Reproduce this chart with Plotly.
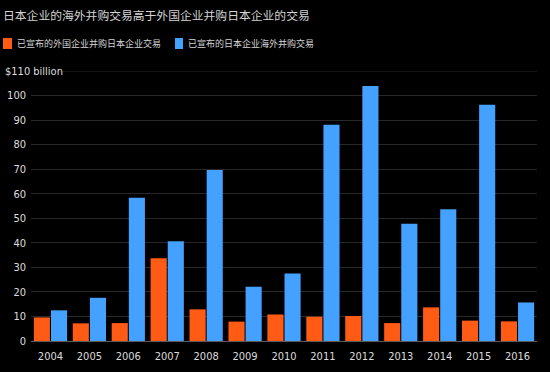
import plotly.graph_objects as go

years = ["2004", "2005", "2006", "2007", "2008", "2009", "2010",
         "2011", "2012", "2013", "2014", "2015", "2016"]
inbound = [9.6, 7.2, 7.3, 33.7, 12.9, 7.9, 10.8, 9.9, 10.2, 7.3, 13.7, 8.3, 8.0]
outbound = [12.5, 17.6, 58.4, 40.6, 69.7, 22.1, 27.5, 88.1, 103.9, 47.8, 53.7, 96.2, 15.7]
y_ticks = [0, 10, 20, 30, 40, 50, 60, 70, 80, 90, 100]

title_text = "日本企业的海外并购交易高于外国企业并购日本企业的交易"
name_in = "已宣布的外国企业并购日本企业交易"
name_out = "已宣布的日本企业海外并购交易"
unit_label = "$110 billion"

ORANGE = "#ff5b14"
BLUE = "#45a1ff"
NUM_FONT = "Liberation Sans Narrow, DejaVu Sans Condensed, Arial Narrow, sans-serif"
CJK_FONT = "Noto Sans CJK SC, sans-serif"

W, H = 550, 372
ML, MR, MT, MB = 31, 13, 71, 31
PW = W - ML - MR
PH = H - MT - MB

def px_x(p):
    return (p - ML) / PW

def px_y(p):
    return 1 + (MT - p) / PH

fig = go.Figure()
fig.add_trace(go.Bar(x=years, y=inbound, name=name_in, marker_color=ORANGE,
                     marker_line_width=0, showlegend=False))
fig.add_trace(go.Bar(x=years, y=outbound, name=name_out, marker_color=BLUE,
                     marker_line_width=0, showlegend=False))

fig.update_layout(
    width=W, height=H,
    margin=dict(l=ML, r=MR, t=MT, b=MB, autoexpand=False),
    paper_bgcolor="#000000", plot_bgcolor="#000000",
    barmode="group", bargap=0.12, bargroupgap=0.06,
    title=dict(text=title_text, x=3 / W, xanchor="left", xref="container",
               y=1 - 16 / H, yanchor="middle", yref="container",
               font=dict(family=CJK_FONT, size=11.8, color="#d4d4d4")),
    xaxis=dict(showgrid=False, showline=True, linecolor="#5a5a5a", linewidth=1,
               ticks="", tickfont=dict(family=NUM_FONT, size=11, color="#dcdcdc"),
               ticklabelstandoff=5, automargin=False),
    yaxis=dict(range=[0, 110], tickvals=y_ticks, showgrid=True,
               gridcolor="#282828", gridwidth=1, zeroline=False,
               tickfont=dict(family=NUM_FONT, size=11, color="#dcdcdc"),
               ticklabelstandoff=4, automargin=False),
)

# gridline at top (110)
fig.add_shape(type="line", xref="paper", yref="y", x0=px_x(55), x1=1, y0=110, y1=110,
              line=dict(color="#282828", width=1), layer="below")
fig.add_annotation(text=unit_label, xref="paper", yref="y", x=px_x(3), y=110,
                   xanchor="left", yanchor="middle", showarrow=False,
                   font=dict(family=NUM_FONT, size=11, color="#dcdcdc"))

# legend
for (sx0, sx1, tx, color, name) in [(3, 12, 15, ORANGE, name_in), (175, 183, 186, BLUE, name_out)]:
    fig.add_shape(type="rect", xref="paper", yref="paper",
                  x0=px_x(sx0), x1=px_x(sx1), y0=px_y(49), y1=px_y(38),
                  fillcolor=color, line_width=0)
    fig.add_annotation(text=name, xref="paper", yref="paper", x=px_x(tx), y=px_y(43.5),
                       xanchor="left", yanchor="middle", showarrow=False,
                       font=dict(family=CJK_FONT, size=9, color="#d4d4d4"))

fig.write_html("out.html", config={"displayModeBar": False},
               post_script="document.body.style.margin='0';document.body.style.background='#000';")
